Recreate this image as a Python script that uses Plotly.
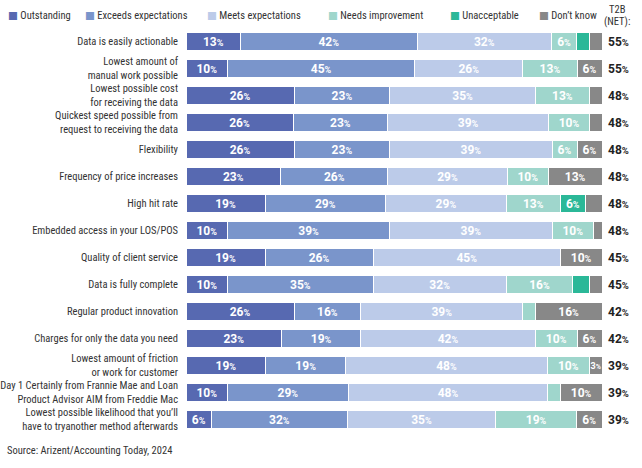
import plotly.graph_objects as go

categories = [
    "Data is easily actionable",
    "Lowest amount of<br>manual work possible",
    "Lowest possible cost<br>for receiving the data",
    "Quickest speed possible from<br>request to receiving the data",
    "Flexibility",
    "Frequency of price increases",
    "High hit rate",
    "Embedded access in your LOS/POS",
    "Quality of client service",
    "Data is fully complete",
    "Regular product innovation",
    "Charges for only the data you need",
    "Lowest amount of friction<br>or work for customer",
    "Day 1 Certainly from Frannie Mae and Loan<br>Product Advisor AIM from Freddie Mac",
    "Lowest possible likelihood that you\u2019ll<br>have to tryanother method afterwards",
]

series_names = ["Outstanding", "Exceeds expectations", "Meets expectations",
                "Needs improvement", "Unacceptable", "Don\u2019t know"]
series_colors = ["#5769b1", "#7a95cb", "#bccbe9", "#9fd6cc", "#2bb898", "#888888"]

outstanding = [13, 10, 26, 26, 26, 23, 19, 10, 19, 10, 26, 23, 19, 10, 6]
exceeds     = [42, 45, 23, 23, 23, 26, 29, 39, 26, 35, 16, 19, 19, 29, 32]
meets       = [32, 26, 35, 39, 39, 29, 29, 39, 45, 32, 39, 42, 48, 48, 35]
needs_impr  = [6, 13, 13, 10, 6, 10, 13, 10, 0, 16, 3, 10, 10, 3, 19]
unaccept    = [3, 0, 0, 0, 0, 0, 6, 0, 0, 4, 0, 0, 0, 0, 0]
dont_know   = [3, 6, 3, 3, 6, 13, 4, 2, 10, 3, 16, 6, 3, 10, 6]

t2b = [55, 55, 48, 48, 48, 48, 48, 48, 45, 45, 42, 42, 39, 39, 39]

# segments below this value are left unlabeled, except the listed ones
min_label = 6
forced_labels = {(12, 5)}  # (row, series) of small segments that still show a label

all_series = [outstanding, exceeds, meets, needs_impr, unaccept, dont_know]

FONT = "Roboto Condensed, Roboto, Arial, sans-serif"
NUM_FONT = "Roboto, Arial, sans-serif"

# layout geometry (pixels)
W, H = 642, 468
ML, MR, MT, MB = 186, 40, 28, 35
PW, PH = W - ML - MR, H - MT - MB


def px_x(px):
    return (px - ML) / PW


def px_y(py):
    return (H - MB - py) / PH


fig = go.Figure()
for si, (name, color, vals) in enumerate(zip(series_names, series_colors, all_series)):
    texts = []
    for ri, v in enumerate(vals):
        if v >= min_label or (ri, si) in forced_labels:
            small = (ri, si) in forced_labels
            nsz = 9 if small else 12
            psz = 7 if small else 9
            texts.append(f"<span style='font-size:{nsz}px'>{v}</span><span style='font-size:{psz}px'>%</span>")
        else:
            texts.append("")
    fig.add_trace(go.Bar(
        y=categories, x=vals, name=name, orientation="h",
        marker=dict(color=color, line=dict(color="white", width=1)),
        text=texts, textposition="inside", insidetextanchor="middle",
        textangle=0, constraintext="none",
        textfont=dict(color="white", family=NUM_FONT, size=12, weight="bold"),
        hoverinfo="skip", showlegend=False,
    ))

# T2B values
for cat, v in zip(categories, t2b):
    fig.add_annotation(
        x=1, xref="paper", y=cat, yref="y", xanchor="left", xshift=4,
        text=f"<b>{v}<span style='font-size:9.5px'>%</span></b>",
        showarrow=False, font=dict(family=NUM_FONT, size=12, color="#222222"),
    )

for txt, ty in [("T2B", 10), ("(NET):", 21)]:
    fig.add_annotation(
        text=txt, xref="paper", yref="paper",
        x=px_x(617), y=px_y(ty), xanchor="center", yanchor="middle",
        showarrow=False, borderpad=0,
        font=dict(family=FONT, size=10.5, color="#333333"),
    )

# legend row (colored square + label)
legend_px = [7, 84, 206, 327, 449, 538]
for name, color, lx in zip(series_names, series_colors, legend_px):
    fig.add_annotation(
        text=f"<span style='color:{color};font-family:DejaVu Sans'>\u25A0</span> {name}",
        xref="paper", yref="paper", x=px_x(lx), y=px_y(16),
        xanchor="left", yanchor="middle", showarrow=False, borderpad=0,
        font=dict(family=FONT, size=10.5, color="#333333"),
    )

fig.add_annotation(
    text="Source: Arizent/Accounting Today, 2024",
    xref="paper", yref="paper", x=px_x(6), y=px_y(450),
    xanchor="left", yanchor="middle", showarrow=False, borderpad=0,
    font=dict(family=FONT, size=10.5, color="#333333"),
)

fig.update_layout(
    width=W, height=H,
    barmode="stack", barnorm="percent", bargap=0.3,
    margin=dict(l=ML, r=MR, t=MT, b=MB, autoexpand=False),
    paper_bgcolor="white", plot_bgcolor="white",
    showlegend=False,
    xaxis=dict(visible=False, range=[0, 100], fixedrange=True),
    yaxis=dict(autorange="reversed", showgrid=False, ticks="", showline=False,
               automargin=False, fixedrange=True,
               tickfont=dict(family=FONT, size=10.5, color="#333333"),
               ticklabelstandoff=7),
)

fig.write_html("out.html", config={"displayModeBar": False},
               post_script="document.body.style.margin='0';")
